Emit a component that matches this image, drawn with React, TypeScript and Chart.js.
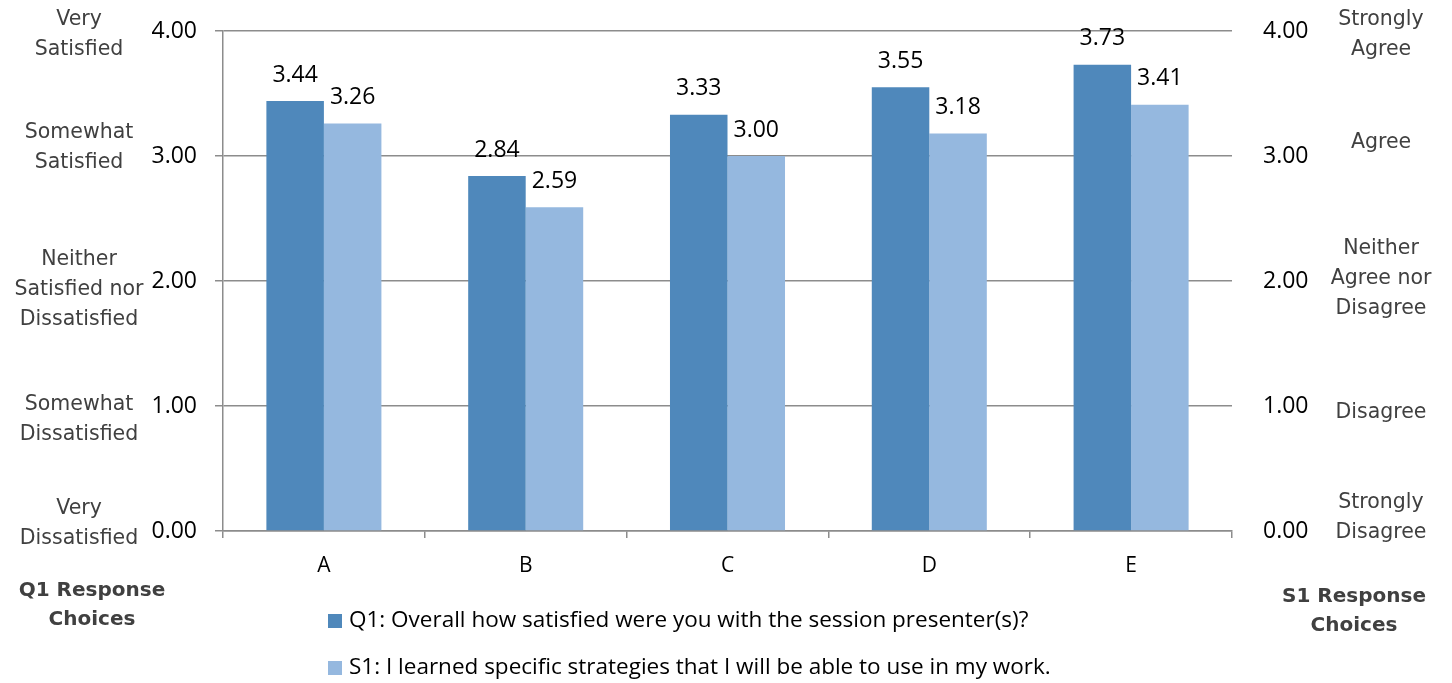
import React, { useEffect, useRef } from "react";
import { Chart, registerables } from "chart.js";

Chart.register(...registerables);

const CATEGORIES = ["A", "B", "C", "D", "E"];
const Q1_VALUES = [3.44, 2.84, 3.33, 3.55, 3.73];
const S1_VALUES = [3.26, 2.59, 3.0, 3.18, 3.41];
const Q1_LABEL = "Q1: Overall how satisfied were you with the session presenter(s)?";
const S1_LABEL = "S1: I learned specific strategies that I will be able to use in my work.";
const TICK_VALUES = [0, 1, 2, 3, 4];
const LEFT_CHOICES = [
  ["Very", "Dissatisfied"],
  ["Somewhat", "Dissatisfied"],
  ["Neither", "Satisfied nor", "Dissatisfied"],
  ["Somewhat", "Satisfied"],
  ["Very", "Satisfied"],
];
const RIGHT_CHOICES = [
  ["Strongly", "Disagree"],
  ["Disagree"],
  ["Neither", "Agree nor", "Disagree"],
  ["Agree"],
  ["Strongly", "Agree"],
];
const LEFT_TITLE = ["Q1 Response", "Choices"];
const RIGHT_TITLE = ["S1 Response", "Choices"];

// layout nudges (pixels) of the choice text boxes relative to their tick line
const LEFT_NUDGE = [-7, 14, 9, -8, 4];
const RIGHT_NUDGE = [-13, 7, -2, -13, 4];

const DARK = "#4F88BB";
const LIGHT = "#95B8DF";
const GRID = "#8C8C8C";
const NUM_FONT = "'Open Sans', 'Liberation Sans', sans-serif";
const LABEL_FONT = "'DejaVu Sans', sans-serif";

const W = 1452;
const H = 683;

const overlayPlugin = {
  id: "overlay",
  afterDraw(chart: any) {
    const ctx = chart.ctx;
    ctx.save();
    // data labels
    ctx.font = `23px ${NUM_FONT}`;
    ctx.fillStyle = "#000";
    ctx.textAlign = "center";
    ctx.textBaseline = "middle";
    chart.data.datasets.forEach((ds: any, di: number) => {
      const meta = chart.getDatasetMeta(di);
      meta.data.forEach((el: any, i: number) => {
        ctx.fillText(Number(ds.data[i]).toFixed(2), el.x, el.y - 26);
      });
    });

    // descriptive choice labels
    const yL = chart.scales.y;
    const yR = chart.scales.y2;
    ctx.font = `20.5px ${LABEL_FONT}`;
    ctx.fillStyle = "#404040";
    const lh = 30;
    TICK_VALUES.forEach((v, i) => {
      const lines = LEFT_CHOICES[i];
      const cy = yL.getPixelForValue(v) + LEFT_NUDGE[i];
      lines.forEach((t, k) => {
        ctx.fillText(t, 79, cy + (k - (lines.length - 1) / 2) * lh);
      });
      const rl = RIGHT_CHOICES[i];
      const ry = yR.getPixelForValue(v) + RIGHT_NUDGE[i];
      rl.forEach((t, k) => {
        ctx.fillText(t, 1381, ry + (k - (rl.length - 1) / 2) * lh);
      });
    });

    // bold titles
    ctx.font = `bold 20px ${LABEL_FONT}`;
    LEFT_TITLE.forEach((t, k) => ctx.fillText(t, 92, 591 + k * 29));
    RIGHT_TITLE.forEach((t, k) => ctx.fillText(t, 1354, 597 + k * 29));

    // legend
    ctx.font = `22.5px ${NUM_FONT}`;
    ctx.textAlign = "left";
    const rows = [621, 668];
    chart.data.datasets.forEach((ds: any, di: number) => {
      const y = rows[di];
      ctx.fillStyle = ds.backgroundColor;
      ctx.fillRect(328, y - 7, 14, 14);
      ctx.fillStyle = "#000";
      ctx.fillText(ds.label, 349, y);
    });
    ctx.restore();
  },
};

export default function App() {
  const ref = useRef<HTMLCanvasElement | null>(null);
  useEffect(() => {
    if (!ref.current) return;
    const chart = new Chart(ref.current, {
      type: "bar",
      data: {
        labels: CATEGORIES,
        datasets: [
          { label: Q1_LABEL, data: Q1_VALUES, backgroundColor: DARK, yAxisID: "y" },
          { label: S1_LABEL, data: S1_VALUES, backgroundColor: LIGHT, yAxisID: "y" },
        ],
      },
      options: {
        responsive: false,
        animation: false,
        devicePixelRatio: 1,
        layout: { padding: { top: 31, left: 0, right: 0, bottom: 0 } },
        datasets: { bar: { categoryPercentage: 0.57, barPercentage: 1 } },
        plugins: { legend: { display: false }, tooltip: { enabled: false } },
        scales: {
          x: {
            offset: true,
            grid: { display: true, drawOnChartArea: false, offset: true, tickLength: 7, color: GRID, lineWidth: 1.5 },
            border: { display: true, color: GRID, width: 1.5 },
            ticks: { font: { family: NUM_FONT, size: 21 }, color: "#000", padding: 15 },
            afterFit: (s: any) => {
              s.height = H - 531;
              s.paddingLeft = 0;
              s.paddingRight = 0;
            },
          },
          y: {
            position: "left",
            min: 0,
            max: 4,
            ticks: {
              stepSize: 1,
              font: { family: NUM_FONT, size: 23 },
              color: "#000",
              padding: 18,
              callback: (v: any) => Number(v).toFixed(2),
            },
            grid: { color: GRID, lineWidth: 1.5, tickLength: 8 },
            border: { display: true, color: GRID, width: 1.5 },
            afterFit: (s: any) => {
              s.width = 223;
              s.paddingTop = 0;
              s.paddingBottom = 0;
            },
          },
          y2: {
            position: "right",
            min: 0,
            max: 4,
            ticks: {
              stepSize: 1,
              font: { family: NUM_FONT, size: 23 },
              color: "#000",
              padding: 23,
              callback: (v: any) => Number(v).toFixed(2),
            },
            grid: { display: false },
            border: { display: false },
            afterFit: (s: any) => {
              s.width = W - 1232;
              s.paddingTop = 0;
              s.paddingBottom = 0;
            },
          },
        },
      },
      plugins: [overlayPlugin],
    });
    return () => chart.destroy();
  }, []);
  return (
    <div style={{ position: "fixed", left: 0, top: 0, width: W, height: H, background: "#fff" }}>
      <canvas ref={ref} width={W} height={H} style={{ width: W, height: H, display: "block" }} />
    </div>
  );
}
